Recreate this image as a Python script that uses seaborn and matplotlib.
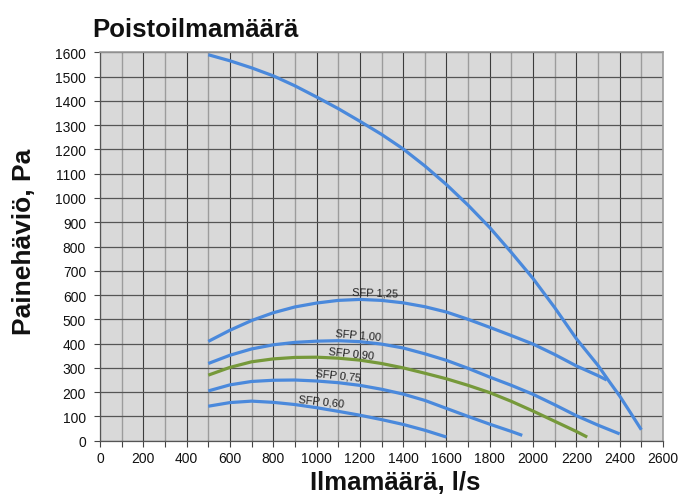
import pandas as pd
import matplotlib
matplotlib.use("Agg")
import matplotlib.pyplot as plt
from matplotlib.ticker import MultipleLocator
import seaborn as sns

# curves (air flow l/s -> pressure Pa)
main_x = [500, 600, 700, 800, 900, 1000, 1100, 1200, 1300, 1400, 1500, 1600,
          1700, 1800, 1900, 2000, 2100, 2200, 2300, 2350, 2400, 2450, 2500]
main_y = [1590, 1565, 1536, 1503, 1462, 1416, 1368, 1316, 1262, 1202, 1132, 1055,
          970, 878, 775, 668, 548, 420, 310, 246, 184, 115, 45]

sfp125_x = [500, 600, 700, 800, 900, 1000, 1100, 1200, 1300, 1400, 1500, 1600,
            1700, 1800, 1900, 2000, 2100, 2200, 2300, 2340]
sfp125_y = [409, 455, 495, 527, 551, 567, 578, 582, 578, 568, 552, 530,
            500, 467, 433, 398, 355, 308, 268, 250]

sfp100_x = [500, 600, 700, 800, 900, 1000, 1100, 1200, 1300, 1400, 1500, 1600,
            1700, 1800, 1900, 2000, 2100, 2200, 2300, 2400]
sfp100_y = [318, 352, 378, 395, 405, 410, 412, 408, 398, 382, 358, 331,
            298, 262, 228, 191, 148, 103, 64, 28]

sfp090_x = [500, 600, 700, 800, 900, 1000, 1100, 1200, 1300, 1400, 1500, 1600,
            1700, 1800, 1900, 2000, 2100, 2200, 2250]
sfp090_y = [270, 302, 325, 337, 343, 344, 340, 332, 318, 300, 278, 255,
            228, 198, 162, 122, 80, 38, 15]

sfp075_x = [500, 600, 700, 800, 900, 1000, 1100, 1200, 1300, 1400, 1500, 1600,
            1700, 1800, 1900, 1950]
sfp075_y = [205, 230, 244, 249, 250, 246, 239, 228, 212, 192, 166, 133,
            100, 68, 38, 22]

sfp060_x = [500, 600, 700, 800, 900, 1000, 1100, 1200, 1300, 1400, 1500, 1600]
sfp060_y = [142, 157, 163, 158, 149, 136, 121, 105, 87, 67, 43, 15]

labels = ["SFP 1,25", "SFP 1,00", "SFP 0,90", "SFP 0,75", "SFP 0,60"]
label_x = [1269, 1192, 1161, 1100, 1023]
label_y = [611, 436, 361, 271, 165]
label_rot = [-2, -5, -6, -6, -6]

blue = "#4a89dc"
green = "#76993a"

sns.set_theme(style="ticks")
plt.rcParams["font.family"] = ["Liberation Sans", "DejaVu Sans"]

fig = plt.figure(figsize=(6.94, 5.02), dpi=100)
ax = fig.add_axes([100 / 694, 60.3 / 502, 563 / 694, 388.4 / 502])
ax.set_facecolor("#d9d9d9")

curves = [
    (main_x, main_y, blue),
    (sfp125_x, sfp125_y, blue),
    (sfp100_x, sfp100_y, blue),
    (sfp090_x, sfp090_y, green),
    (sfp075_x, sfp075_y, blue),
    (sfp060_x, sfp060_y, blue),
]
for xs, ys, col in curves:
    df = pd.DataFrame({"flow": xs, "pressure": ys})
    sns.lineplot(data=df, x="flow", y="pressure", color=col, linewidth=2.3,
                 sort=False, ax=ax, zorder=3, solid_capstyle="butt")

for txt, lx, ly, r in zip(labels, label_x, label_y, label_rot):
    ax.text(lx, ly, txt, fontsize=8, ha="center", va="center", rotation=r,
            color="#222222", zorder=4)

ax.set_xlim(0, 2600)
ax.set_ylim(0, 1600)
ax.xaxis.set_major_locator(MultipleLocator(200))
ax.xaxis.set_minor_locator(MultipleLocator(100))
ax.yaxis.set_major_locator(MultipleLocator(100))

ax.grid(which="major", axis="x", color="#3c3c3c", linewidth=0.8, zorder=1)
ax.grid(which="minor", axis="x", color="#9c9c9c", linewidth=1.0, zorder=1)
ax.grid(which="major", axis="y", color="#555555", linewidth=0.9, zorder=1)
ax.set_axisbelow(True)

ax.tick_params(which="both", direction="out", length=4, width=0.8,
               color="#444444", labelsize=10, labelcolor="#111111")
ax.tick_params(axis="y", pad=6)

for side in ["left", "bottom"]:
    ax.spines[side].set_color("#555555")
    ax.spines[side].set_linewidth(0.9)
for side in ["top", "right"]:
    ax.spines[side].set_visible(True)
    ax.spines[side].set_color("#9c9c9c")
    ax.spines[side].set_linewidth(1.2)

ax.set_xlabel("")
ax.set_ylabel("")

fig.text(92 / 694, 1 - 37 / 502, "Poistoilmamäärä", fontsize=18.5,
         fontweight="bold", ha="left", va="baseline", color="#111111")
fig.text(395 / 694, 1 - 483 / 502, "Ilmamäärä, l/s", fontsize=18.5,
         fontweight="bold", ha="center", va="center", color="#111111")
fig.text(24 / 694, 1 - 242 / 502, "Painehäviö, Pa", fontsize=19,
         fontweight="bold", ha="center", va="center", rotation=90,
         color="#111111")

fig.savefig("out.png", dpi=100)
